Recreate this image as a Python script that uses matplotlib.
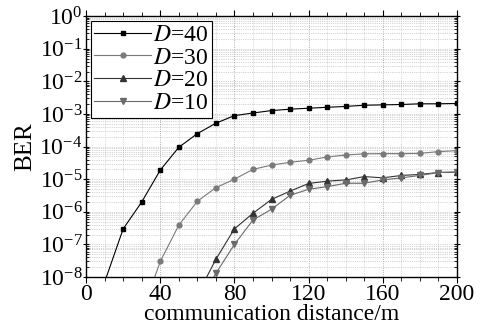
import matplotlib
matplotlib.use("Agg")
import matplotlib.pyplot as plt
from matplotlib.ticker import LogLocator, MultipleLocator, NullFormatter

plt.rcParams['font.family'] = ['Liberation Serif', 'DejaVu Serif']
plt.rcParams['mathtext.fontset'] = 'stix'

# communication distance (m); first point of each series lies below the plotted range
dist_40 = [10, 20, 30, 40, 50, 60, 70, 80, 90, 100, 110, 120, 130, 140, 150, 160, 170, 180, 190, 200]
ber_40 = [7e-9, 3e-7, 2e-6, 1.9e-5, 9.5e-5, 2.5e-4, 5.2e-4, 8.9e-4, 1.07e-3, 1.27e-3, 1.4e-3,
          1.5e-3, 1.6e-3, 1.7e-3, 1.85e-3, 1.9e-3, 1.95e-3, 2.05e-3, 2.05e-3, 2.1e-3]

dist_30 = [30, 40, 50, 60, 70, 80, 90, 100, 110, 120, 130, 140, 150, 160, 170, 180, 190, 200]
ber_30 = [7.5e-10, 3e-8, 3.9e-7, 2.1e-6, 5.5e-6, 1e-5, 2e-5, 2.7e-5, 3.3e-5, 3.8e-5, 4.8e-5,
          5.5e-5, 6e-5, 6.1e-5, 6.1e-5, 6.2e-5, 7e-5, 7.5e-5]

dist_20 = [60, 70, 80, 90, 100, 110, 120, 130, 140, 150, 160, 170, 180, 190, 200]
ber_20 = [2.8e-9, 3.5e-8, 3e-7, 9e-7, 2.4e-6, 4.3e-6, 7.4e-6, 8.7e-6, 9.5e-6, 1.2e-5, 1.1e-5,
          1.3e-5, 1.4e-5, 1.6e-5, 1.65e-5]

dist_10 = [60, 70, 80, 90, 100, 110, 120, 130, 140, 150, 160, 170, 180, 190, 200]
ber_10 = [1.3e-9, 1.3e-8, 1e-7, 5.6e-7, 1.2e-6, 3.2e-6, 4.9e-6, 5.9e-6, 7.5e-6, 7.5e-6, 9.5e-6,
          1.1e-5, 1.3e-5, 1.6e-5, 1.65e-5]

fig = plt.figure(figsize=(4.81, 3.29), dpi=100)
ax = fig.add_axes([0.179, 0.158, 0.771, 0.793])

ax.plot(dist_40, ber_40, color='black', lw=0.8, marker='s', ms=3.5, label='$D$=40')
ax.plot(dist_30, ber_30, color='#7a7a7a', lw=0.8, marker='o', ms=3.5, label='$D$=30')
ax.plot(dist_20, ber_20, color='#333333', lw=0.8, marker='^', ms=4, label='$D$=20')
ax.plot(dist_10, ber_10, color='#6a6a6a', lw=0.8, marker='v', ms=4, label='$D$=10')

ax.set_yscale('log')
ax.set_xlim(0, 200)
ax.set_ylim(1e-8, 1)
ax.xaxis.set_major_locator(MultipleLocator(40))
ax.xaxis.set_minor_locator(MultipleLocator(10))
ax.yaxis.set_major_locator(LogLocator(base=10, numticks=20))
ax.yaxis.set_minor_locator(LogLocator(base=10, subs=range(2, 10), numticks=20))
ax.yaxis.set_minor_formatter(NullFormatter())

# dense dotted grid
ax.grid(True, which='major', axis='x', ls=':', lw=0.6, color='#999999')
ax.grid(True, which='minor', axis='x', ls=':', lw=0.5, color='#bbbbbb')
ax.grid(True, which='both', axis='y', ls=':', lw=0.5, color='#aaaaaa')

ax.tick_params(axis='x', which='both', direction='out', labelsize=17, pad=1)
ax.tick_params(axis='x', which='major', length=4)
ax.tick_params(axis='x', which='minor', length=3)
ax.tick_params(axis='y', which='major', direction='inout', length=5, right=True, labelsize=17, pad=0)
ax.tick_params(axis='y', which='minor', direction='in', length=2.5, right=True)
ax.tick_params(axis='x', which='both', top=True)
for sp in ax.spines.values():
    sp.set_linewidth(1.0)

ax.set_xlabel('communication distance/m', fontsize=17, labelpad=-1)
ax.set_ylabel('BER', fontsize=18, labelpad=2)

leg = ax.legend(loc='upper left', fontsize=17, frameon=True, fancybox=False, edgecolor='black',
                framealpha=1, borderaxespad=0.2, handlelength=2.4, handletextpad=0.1,
                labelspacing=0.05, borderpad=0.15)
leg.get_frame().set_linewidth(0.8)

fig.savefig('out.png', dpi=100)
